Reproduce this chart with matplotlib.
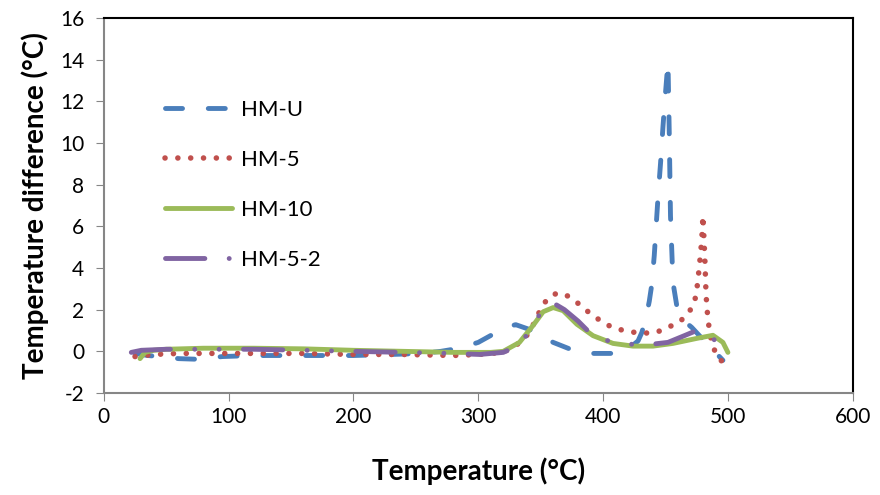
import matplotlib
matplotlib.use('Agg')
import matplotlib.pyplot as plt

plt.rcParams['axes.unicode_minus'] = False

# HM-U (blue dashed)
hmu_t = [25, 35, 45, 60, 75, 95, 110, 130, 150, 175, 200, 230, 255, 270, 285, 300, 313, 322, 330,
         341, 350, 360, 376, 392, 408, 420, 428, 431, 434, 437, 439, 441, 442.5, 444, 446, 448,
         450, 452, 453, 454, 456, 459, 461, 466, 471, 478, 486, 496]
hmu_v = [-0.1, -0.2, -0.25, -0.35, -0.38, -0.25, -0.22, -0.2, -0.2, -0.2, -0.2, -0.15, -0.1, 0.0,
         0.15, 0.43, 0.86, 1.15, 1.28, 1.05, 0.8, 0.43, 0.05, -0.1, -0.1, 0.1, 0.5, 0.9, 1.5,
         2.4, 3.2, 4.6, 6.0, 7.4, 9.0, 10.8, 12.4, 13.9, 10.5, 6.5, 3.3, 2.2, 1.7, 1.4, 1.15,
         0.7, 0.2, -0.43]

# HM-5 (red dotted)
hm5_t = [25, 40, 60, 80, 100, 130, 160, 200, 240, 280, 300, 320, 333, 341, 349, 355, 363, 372,
         380, 388, 396, 404, 413, 424, 433, 443, 452, 461, 468, 473, 475, 477, 479, 480, 481.5,
         482.5, 484, 487, 491, 497]
hm5_v = [-0.25, -0.15, -0.1, -0.1, -0.1, -0.1, -0.1, -0.15, -0.15, -0.2, -0.15, -0.05, 0.4, 0.9,
         1.9, 2.5, 2.8, 2.65, 2.3, 1.9, 1.55, 1.25, 1.05, 0.92, 0.87, 0.92, 1.15, 1.4, 1.8, 2.3,
         2.9, 4.0, 5.3, 6.5, 4.5, 2.7, 1.5, 0.4, -0.2, -0.6]

# HM-10 (green solid)
hm10_t = [29, 33, 40, 50, 80, 120, 160, 200, 240, 280, 310, 320, 333, 344, 352, 360, 368, 379,
          392, 408, 424, 440, 456, 475, 488, 496, 500]
hm10_v = [-0.35, -0.05, 0.05, 0.1, 0.15, 0.15, 0.12, 0.05, 0.0, -0.05, -0.05, 0.0, 0.43, 1.25,
          1.9, 2.1, 1.95, 1.3, 0.75, 0.38, 0.25, 0.25, 0.38, 0.62, 0.77, 0.43, -0.05]

# HM-5-2 (purple dash-dot-dot)
hm52_t = [22, 30, 50, 80, 120, 160, 200, 240, 280, 301, 320, 333, 345, 351, 356, 362, 369, 380,
          393, 413, 433, 452, 465, 475, 484, 490, 497]
hm52_v = [-0.05, 0.05, 0.1, 0.1, 0.1, 0.05, 0.0, -0.05, -0.1, -0.15, -0.05, 0.3, 1.3, 2.0, 2.3,
          2.25, 2.0, 1.45, 0.67, 0.38, 0.3, 0.43, 0.75, 1.0, 0.85, 0.5, -0.1]

xticks = [0, 100, 200, 300, 400, 500, 600]
yticks = [-2, 0, 2, 4, 6, 8, 10, 12, 14, 16]

fig = plt.figure(figsize=(8.8, 4.95), dpi=100)
ax = fig.add_axes([0.118, 0.206, 0.851, 0.758])

lw = 3.5
ax.plot(hmu_t, hmu_v, color='#4A7EBB', lw=lw, dashes=(3.5, 5.3), dash_capstyle='round',
        label='HM-U')
ax.plot(hm5_t, hm5_v, color='#C0504D', lw=4, dashes=(0.01, 2.3), dash_capstyle='round',
        label='HM-5')
ax.plot(hm10_t, hm10_v, color='#9BBB59', lw=lw, solid_capstyle='round', label='HM-10')
ax.plot(hm52_t, hm52_v, color='#8064A2', lw=lw, dashes=(8.1, 5, 0.01, 5, 0.01, 5),
        dash_capstyle='round', label='HM-5-2')

ax.set_xlim(0, 600)
ax.set_ylim(-2, 16)
ax.set_xticks(xticks)
ax.set_yticks(yticks)

for lab in ax.get_xticklabels() + ax.get_yticklabels():
    lab.set_family('Lato')
    lab.set_fontsize(15)
ax.tick_params(axis='both', direction='out', length=6, color='#868686')
ax.tick_params(axis='x', pad=4)
ax.tick_params(axis='y', pad=8)

for s in ['left', 'bottom']:
    ax.spines[s].set_color('#868686')
    ax.spines[s].set_linewidth(1.5)
for s in ['top', 'right']:
    ax.spines[s].set_color('black')
    ax.spines[s].set_linewidth(1.5)

ax.set_xlabel('Temperature (°C)', family='Lato', fontweight='bold', fontsize=20, labelpad=22)
ax.set_ylabel('Temperature difference (°C)', family='Lato', fontweight='bold', fontsize=20,
              labelpad=8)

leg = ax.legend(loc='upper left', bbox_to_anchor=(0.055, 0.835), frameon=False,
                prop={'family': 'Lato', 'size': 16}, handlelength=3.0, handletextpad=0.4,
                labelspacing=1.35)

plt.savefig('out.png', dpi=100)
